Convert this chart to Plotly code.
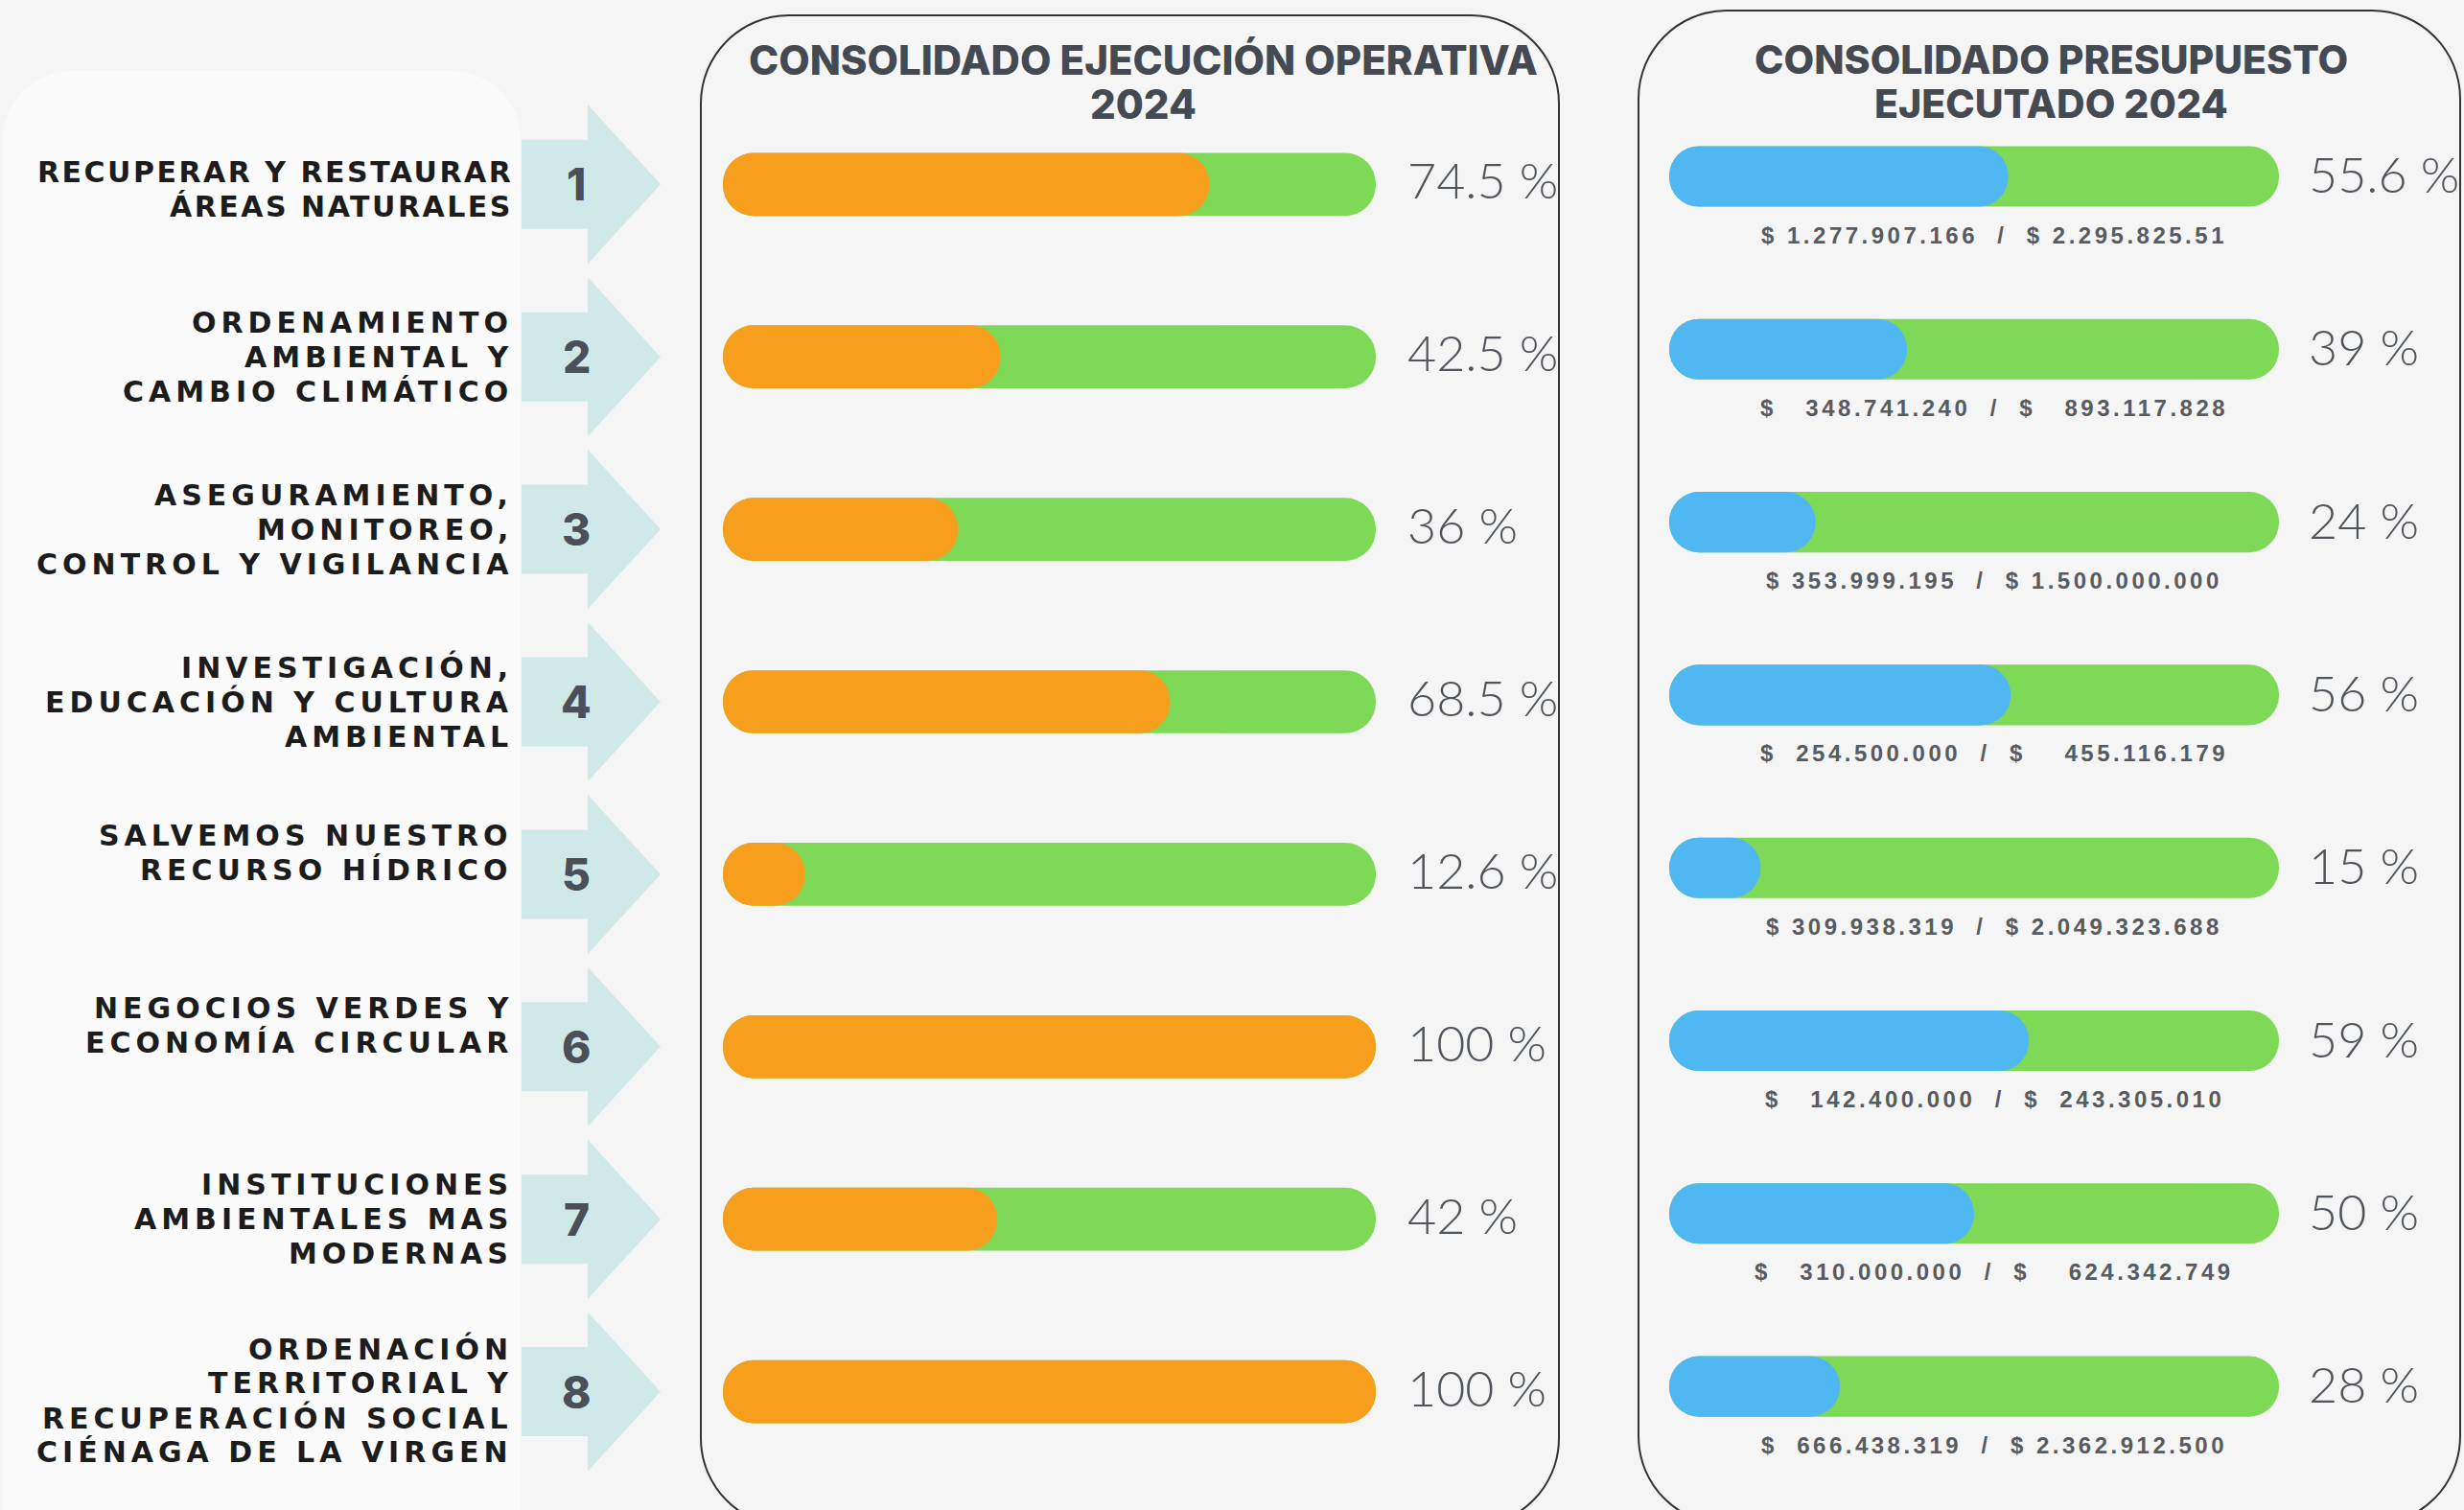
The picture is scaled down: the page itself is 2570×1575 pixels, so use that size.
import plotly.graph_objects as go

# ---------------- data ----------------
programs = [
    "RECUPERAR Y RESTAURAR\nÁREAS NATURALES",
    "ORDENAMIENTO\nAMBIENTAL Y\nCAMBIO CLIMÁTICO",
    "ASEGURAMIENTO,\nMONITOREO,\nCONTROL Y VIGILANCIA",
    "INVESTIGACIÓN,\nEDUCACIÓN Y CULTURA\nAMBIENTAL",
    "SALVEMOS NUESTRO\nRECURSO HÍDRICO",
    "NEGOCIOS VERDES Y\nECONOMÍA CIRCULAR",
    "INSTITUCIONES\nAMBIENTALES MAS\nMODERNAS",
    "ORDENACIÓN\nTERRITORIAL Y\nRECUPERACIÓN SOCIAL\nCIÉNAGA DE LA VIRGEN",
]
program_numbers = ["1", "2", "3", "4", "5", "6", "7", "8"]
ejecucion_operativa_pct = [74.5, 42.5, 36, 68.5, 12.6, 100, 42, 100]
presupuesto_pct = [55.6, 39, 24, 56, 15, 59, 50, 28]
presupuesto_ejecutado = ["$ 1.277.907.166", "$   348.741.240", "$ 353.999.195", "$  254.500.000",
                         "$ 309.938.319", "$   142.400.000", "$   310.000.000", "$  666.438.319"]
presupuesto_total = ["$ 2.295.825.51", "$   893.117.828", "$ 1.500.000.000", "$    455.116.179",
                     "$ 2.049.323.688", "$  243.305.010", "$    624.342.749", "$ 2.362.912.500"]
title_operativa = ["CONSOLIDADO EJECUCIÓN OPERATIVA", "2024"]
title_presupuesto = ["CONSOLIDADO PRESUPUESTO", "EJECUTADO 2024"]
full_scale = 100

# ---------------- styling / layout ----------------
W, H = 2570, 1575
BG = "#f5f5f5"
LEFT_BG = "#fafafa"
ARROW = "#cfe9e9"
GREEN = "#7ed957"
ORANGE = "#f79f1d"
BLUE = "#4fb8f2"
DARK = "#454a52"
BORDER = "#333333"
label_tracking = [2.5, 5, 5, 5, 5, 5, 5, 5]     # letter spacing (px) of each label block
label_nudge = [5, 0, 0, 0, -22, -22, 0, 9]      # vertical nudge (px, down) of each label block

rows = list(range(len(programs)))


def fx(px):
    return px / W


def fy(py):
    return 1 - py / H


# panel 1 (operativa) geometry in pixels
OP_BOX = (731, 16, 1626, 1592)
OP_BAR0, OP_BAR100 = 754, 1435
OP_ROW0, OP_PITCH = 192.3, 179.9
# panel 2 (presupuesto)
BU_BOX = (1709, 11, 2566, 1590)
BU_BAR0, BU_BAR100 = 1741, 2377
BU_ROW0, BU_PITCH = 184.0, 180.3


def x_range(box, b0, b100):
    k = (b100 - b0) / full_scale
    return [-(b0 - box[0]) / k, full_scale + (box[2] - b100) / k]


def y_range(row0, pitch):
    top = -row0 / pitch
    return [top + H / pitch, top]


fig = go.Figure()


def add_round_bar(vals, color, xa, ya, width):
    fig.add_trace(go.Bar(x=vals, base=[0] * len(vals), y=rows, orientation="h",
                         marker=dict(color=color, cornerradius="50%", line=dict(width=0)),
                         width=width, xaxis=xa, yaxis=ya, hoverinfo="skip", showlegend=False))


track = [full_scale] * len(rows)
add_round_bar(track, GREEN, "x", "y", 0.365)
add_round_bar(ejecucion_operativa_pct, ORANGE, "x", "y", 0.365)
add_round_bar(track, GREEN, "x2", "y2", 0.35)
add_round_bar(presupuesto_pct, BLUE, "x2", "y2", 0.35)

# ---------------- shapes ----------------
shapes = []


def rounded_rect(x0, y0, x1, y1, r, **kw):
    c = 0.5523 * r
    pts = [
        f"M{fx(x0 + r)},{fy(y0)}",
        f"L{fx(x1 - r)},{fy(y0)}",
        f"C{fx(x1 - r + c)},{fy(y0)} {fx(x1)},{fy(y0 + r - c)} {fx(x1)},{fy(y0 + r)}",
        f"L{fx(x1)},{fy(y1 - r)}",
        f"C{fx(x1)},{fy(y1 - r + c)} {fx(x1 - r + c)},{fy(y1)} {fx(x1 - r)},{fy(y1)}",
        f"L{fx(x0 + r)},{fy(y1)}",
        f"C{fx(x0 + r - c)},{fy(y1)} {fx(x0)},{fy(y1 - r + c)} {fx(x0)},{fy(y1 - r)}",
        f"L{fx(x0)},{fy(y0 + r)}",
        f"C{fx(x0)},{fy(y0 + r - c)} {fx(x0 + r - c)},{fy(y0)} {fx(x0 + r)},{fy(y0)}",
        "Z",
    ]
    return dict(type="path", xref="paper", yref="paper", path=" ".join(pts), layer="below", **kw)


# left light panel
shapes.append(rounded_rect(3, 74, 543, 1660, 72, fillcolor=LEFT_BG, line=dict(width=0)))
# panel borders
shapes.append(rounded_rect(*OP_BOX, 92, fillcolor="rgba(0,0,0,0)", line=dict(color=BORDER, width=2)))
shapes.append(rounded_rect(*BU_BOX, 92, fillcolor="rgba(0,0,0,0)", line=dict(color=BORDER, width=2)))

# arrows (one per program row)
AR_X0, AR_X1, AR_X2 = 544, 613, 689
for r in rows:
    hb = 46.5 / OP_PITCH
    hh = 83 / OP_PITCH
    p = (f"M{fx(AR_X0)},{r - hb} L{fx(AR_X1)},{r - hb} L{fx(AR_X1)},{r - hh} "
         f"L{fx(AR_X2)},{r} L{fx(AR_X1)},{r + hh} L{fx(AR_X1)},{r + hb} L{fx(AR_X0)},{r + hb} Z")
    shapes.append(dict(type="path", xref="paper", yref="y", path=p, fillcolor=ARROW,
                       line=dict(width=0), layer="below"))

# ---------------- annotations ----------------
ann = []
NB = "\u00a0"


def nb(s):
    return s.replace(" ", NB)


# titles
for i, line in enumerate(title_operativa):
    ann.append(dict(text=line, xref="paper", yref="paper", x=fx(1192), y=fy(62 + 46 * i),
                    showarrow=False, xanchor="center", yanchor="middle",
                    font=dict(family="Inter", size=42, color=DARK, weight=800)))
for i, line in enumerate(title_presupuesto):
    ann.append(dict(text=line, xref="paper", yref="paper", x=fx(2139), y=fy(62 + 46 * i),
                    showarrow=False, xanchor="center", yanchor="middle",
                    font=dict(family="Inter", size=41, color=DARK, weight=800)))

# program labels (one annotation per line, fixed leading)
LEAD = 36
for r, label, ls, dy in zip(rows, programs, label_tracking, label_nudge):
    lines = label.split("\n")
    n = len(lines)
    for k, line in enumerate(lines):
        ann.append(dict(text=f'<span style="letter-spacing:{ls}px">{line}</span>',
                        xref="paper", yref="y", x=fx(537), y=r,
                        yshift=-(k - (n - 1) / 2) * LEAD - dy,
                        showarrow=False, xanchor="right", yanchor="middle",
                        font=dict(family="DejaVu Sans", size=30, color="#1c1c1c", weight=700)))

# numbers in arrows
for r, num in zip(rows, program_numbers):
    ann.append(dict(text=num, xref="paper", yref="y", x=fx(601), y=r, showarrow=False,
                    xanchor="center", yanchor="middle",
                    font=dict(family="Inter", size=46, color="#4b5058", weight=800)))

# percentage labels
for r, v in zip(rows, ejecucion_operativa_pct):
    ann.append(dict(text=f"{v:g} %", xref="x", yref="y", x=full_scale, y=r, xshift=31, yshift=5,
                    showarrow=False, xanchor="left", yanchor="middle",
                    font=dict(family="Lato", size=52, color="#50555c", weight=300)))
for r, v in zip(rows, presupuesto_pct):
    ann.append(dict(text=f"{v:g} %", xref="x2", yref="y2", x=full_scale, y=r, xshift=29, yshift=3,
                    showarrow=False, xanchor="left", yanchor="middle",
                    font=dict(family="Lato", size=52, color="#50555c", weight=300)))

# money labels
for r, a, b in zip(rows, presupuesto_ejecutado, presupuesto_total):
    ann.append(dict(text=f'<span style="letter-spacing:3.5px">{nb(a + "  /  " + b)}</span>',
                    xref="x2", yref="y2", x=full_scale / 2, y=r, xshift=21, yshift=-61,
                    showarrow=False, xanchor="center", yanchor="middle",
                    font=dict(family="Liberation Sans", size=24, color="#585b60", weight=700)))

fig.update_layout(
    width=W, height=H, margin=dict(l=0, r=0, t=0, b=0),
    paper_bgcolor=BG, plot_bgcolor="rgba(0,0,0,0)",
    barmode="overlay", showlegend=False,
    shapes=shapes, annotations=ann,
    xaxis=dict(domain=[fx(OP_BOX[0]), fx(OP_BOX[2])], range=x_range(OP_BOX, OP_BAR0, OP_BAR100),
               visible=False, fixedrange=True),
    yaxis=dict(domain=[0, 1], range=y_range(OP_ROW0, OP_PITCH), visible=False, fixedrange=True),
    xaxis2=dict(domain=[fx(BU_BOX[0]), fx(BU_BOX[2])], range=x_range(BU_BOX, BU_BAR0, BU_BAR100),
                visible=False, fixedrange=True, anchor="y2"),
    yaxis2=dict(domain=[0, 1], range=y_range(BU_ROW0, BU_PITCH), visible=False, fixedrange=True,
                anchor="x2"),
)

# remove the browser's default 8px page margin so the figure fills the window exactly
fig.write_html("out.html", config={"displayModeBar": False},
               post_script="document.body.style.margin='0';")
